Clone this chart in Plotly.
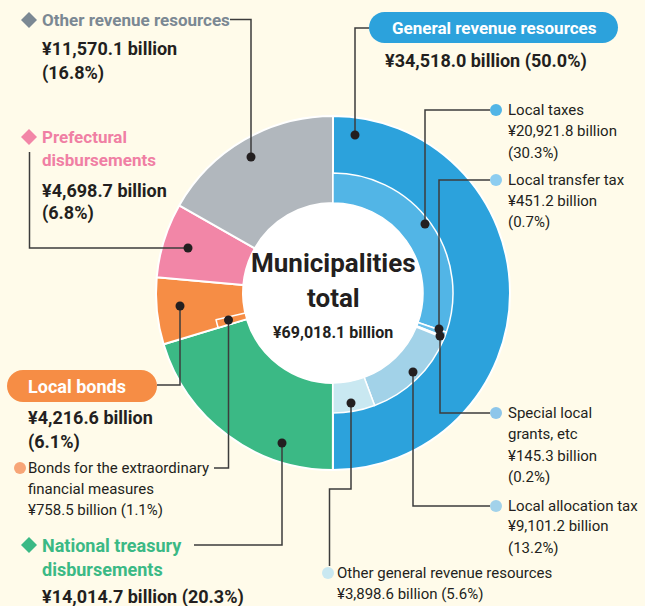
import plotly.graph_objects as go

# ---------------- data ----------------
total_value = 69018.1
outer_labels = ["General revenue resources", "National treasury disbursements",
                "Local bonds", "Prefectural disbursements", "Other revenue resources"]
outer_values = [34518.0, 14014.7, 4216.6, 4698.7, 11570.1]
outer_pct = [50.0, 20.3, 6.1, 6.8, 16.8]

general_labels = ["Local taxes", "Local transfer tax", "Special local grants, etc",
                  "Local allocation tax", "Other general revenue resources"]
general_values = [20921.8, 451.2, 145.3, 9101.2, 3898.6]
general_pct = [30.3, 0.7, 0.2, 13.2, 5.6]

bonds_extra_label = "Bonds for the extraordinary financial measures"
bonds_extra_value = 758.5
bonds_extra_pct = 1.1

# ---------------- styles ----------------
W, H = 645, 606
BG = "#fffbea"
DARK = "#231f20"
LINE = "#3c3c3c"
outer_colors = ["#2ca2dc", "#3bb985", "#f68d45", "#f286a7", "#b1b7bd"]
general_colors = ["#52b5e6", "#6cc0ea", "#8fcbec", "#a2d2e8", "#c9e8f1"]
extra_color = "#f68d45"
FONT = "Roboto, Liberation Sans, sans-serif"

CX, CY = 333, 293
R_OUT, R_MID, R_IN = 177, 120, 90


def dom(r):
    return dict(x=[(CX - r) / W, (CX + r) / W],
                y=[1 - (CY + r) / H, 1 - (CY - r) / H])


def amt(v, p):
    return f"¥{v:,.1f} billion", f"({p:.1f}%)"


fig = go.Figure()

# outer ring
fig.add_trace(go.Pie(
    values=outer_values, labels=outer_labels, sort=False, direction="clockwise",
    rotation=0, hole=R_IN / R_OUT, domain=dom(R_OUT), textinfo="none",
    marker=dict(colors=outer_colors, line=dict(color="white", width=2)),
    showlegend=False, hoverinfo="label+value"))

# inner ring (general revenue breakdown + extraordinary bonds)
inner_values = general_values + [outer_values[1], bonds_extra_value,
                                 outer_values[2] - bonds_extra_value + outer_values[3] + outer_values[4]]
inner_labels = general_labels + ["", bonds_extra_label, " "]
inner_colors = general_colors + ["rgba(0,0,0,0)", extra_color, "rgba(0,0,0,0)"]
inner_lw = [1.5] * 5 + [0, 1.5, 0]
fig.add_trace(go.Pie(
    values=inner_values, labels=inner_labels, sort=False, direction="clockwise",
    rotation=0, hole=R_IN / R_MID, domain=dom(R_MID), textinfo="none",
    marker=dict(colors=inner_colors, line=dict(color="white", width=inner_lw)),
    showlegend=False, hoverinfo="skip"))

# invisible pixel-space axes for callouts
fig.add_trace(go.Scatter(x=[0], y=[0], mode="markers", marker=dict(opacity=0),
                         hoverinfo="skip", showlegend=False))

shapes = []
annotations = []


def text(x, y, s, size=15, color=DARK, bold=False, xanchor="left"):
    annotations.append(dict(x=x - (2 if xanchor == "left" else 0), y=y, xref="x", yref="y",
                            text=(f"<b>{s}</b>" if bold else s),
                            showarrow=False, xanchor=xanchor, yanchor="middle",
                            font=dict(family=FONT, size=size, color=color)))


def poly(points):
    shapes.append(dict(type="path", xref="x", yref="y",
                       path="M " + " L ".join(f"{x},{y}" for x, y in points),
                       line=dict(color=LINE, width=1.5), layer="above"))


def dot(x, y, r=4.5, color=DARK):
    shapes.append(dict(type="circle", xref="x", yref="y", x0=x - r, x1=x + r, y0=y - r, y1=y + r,
                       fillcolor=color, line=dict(width=0), layer="above"))


def diamond(cx, cy, color, h=8):
    shapes.append(dict(type="path", xref="x", yref="y",
                       path=f"M {cx},{cy-h} L {cx+h},{cy} L {cx},{cy+h} L {cx-h},{cy} Z",
                       fillcolor=color, line=dict(width=0), layer="above"))


def pill(x0, y0, x1, y1, color):
    r = (y1 - y0) / 2
    yc = (y0 + y1) / 2
    k = 0.5523 * r
    p = (f"M {x0+r},{y0} L {x1-r},{y0} C {x1-r+k},{y0} {x1},{yc-k} {x1},{yc} "
         f"C {x1},{yc+k} {x1-r+k},{y1} {x1-r},{y1} L {x0+r},{y1} "
         f"C {x0+r-k},{y1} {x0},{yc+k} {x0},{yc} C {x0},{yc-k} {x0+r-k},{y0} {x0+r},{y0} Z")
    shapes.append(dict(type="path", xref="x", yref="y", path=p, fillcolor=color,
                       line=dict(width=0), layer="above"))


BIG = 18
LABEL = 17
SMALL = 15

# white centre
shapes.append(dict(type="circle", xref="x", yref="y", x0=CX - R_IN + 0.5, x1=CX + R_IN - 0.5,
                   y0=CY - R_IN + 0.5, y1=CY + R_IN - 0.5, fillcolor="white",
                   line=dict(width=0), layer="above"))
text(CX, 263, "Municipalities", size=26, bold=True, xanchor="center")
text(CX, 298, "total", size=26, bold=True, xanchor="center")
text(CX, 332, f"¥{total_value:,.1f} billion", size=16, bold=True, xanchor="center")

# ---- General revenue resources (pill, top right)
pill(369, 12, 618, 43, outer_colors[0])
text(494, 27.5, outer_labels[0], size=LABEL, color="white", bold=True, xanchor="center")
a, p = amt(outer_values[0], outer_pct[0])
text(385, 61, f"{a} {p}", size=BIG, bold=True)
poly([(369, 28), (355, 28), (355, 135)])
dot(355, 135)

# ---- Other revenue resources
diamond(29, 20, "#7b8893")
text(42, 20, outer_labels[4], size=LABEL, color="#7b8893", bold=True)
a, p = amt(outer_values[4], outer_pct[4])
text(42, 48, a, size=BIG, bold=True)
text(42, 73, p, size=BIG, bold=True)
poly([(230, 19.5), (251, 19.5), (251, 157)])
dot(251, 157)

# ---- Prefectural disbursements
diamond(29, 137, "#f286a7")
text(42, 137, "Prefectural", size=LABEL, color="#f07fa4", bold=True)
text(42, 160, "disbursements", size=LABEL, color="#f07fa4", bold=True)
a, p = amt(outer_values[3], outer_pct[3])
text(42, 190, a, size=BIG, bold=True)
text(42, 213, p, size=BIG, bold=True)
poly([(29.5, 152), (29.5, 248), (188, 248)])
dot(188, 248)

# ---- Local bonds
pill(7, 370, 157, 402, outer_colors[2])
text(28, 386, outer_labels[2], size=18, color="white", bold=True)
a, p = amt(outer_values[2], outer_pct[2])
text(28, 417, a, size=BIG, bold=True)
text(28, 442, p, size=BIG, bold=True)
poly([(157, 385), (180, 385), (180, 306)])
dot(180, 306)

# ---- Bonds for the extraordinary financial measures
dot(20, 468, r=6, color="#f7a577")
text(28, 468, "Bonds for the extraordinary", size=SMALL)
text(28, 489, "financial measures", size=SMALL)
a, p = amt(bonds_extra_value, bonds_extra_pct)
text(28, 510, f"{a} {p}", size=SMALL)
poly([(214, 468), (228.5, 468), (228.5, 320)])
dot(228.5, 320)

# ---- National treasury disbursements
diamond(29, 545, "#3bb985")
text(42, 545, "National treasury", size=18, color="#3bb985", bold=True)
text(42, 569, "disbursements", size=18, color="#3bb985", bold=True)
a, p = amt(outer_values[1], outer_pct[1])
text(42, 597, f"{a} {p}", size=BIG, bold=True)
poly([(194, 545), (282, 545), (282, 443)])
dot(282, 443)

# ---- General revenue breakdown (right side)
bullet_cols = ["#52b5e6", "#8dcdf0", "#8dc6ea", "#a2d2ea", "#c9e8f1"]
# Local taxes
dot(496, 110, r=6, color=bullet_cols[0])
text(508, 110, general_labels[0], size=SMALL)
a, p = amt(general_values[0], general_pct[0])
text(508, 131, a, size=SMALL)
text(508, 153, p, size=SMALL)
poly([(490, 110), (425, 110), (425, 224)])
dot(425, 224)

# Local transfer tax
dot(496, 180, r=6, color=bullet_cols[1])
text(508, 180, general_labels[1], size=SMALL)
a, p = amt(general_values[1], general_pct[1])
text(508, 201, a, size=SMALL)
text(508, 222, p, size=SMALL)
poly([(490, 180), (439, 180), (439, 329)])
dot(439, 329)

# Special local grants, etc
dot(496, 413, r=6, color=bullet_cols[2])
text(508, 413, "Special local", size=SMALL)
text(508, 434, "grants, etc", size=SMALL)
a, p = amt(general_values[2], general_pct[2])
text(508, 456, a, size=SMALL)
text(508, 477, p, size=SMALL)
poly([(490, 413), (440, 413), (440, 336)])
dot(440, 336)

# Local allocation tax
dot(496, 506, r=6, color=bullet_cols[3])
text(508, 506, general_labels[3], size=SMALL)
a, p = amt(general_values[3], general_pct[3])
text(508, 526, a, size=SMALL)
text(508, 548, p, size=SMALL)
poly([(490, 506), (413, 506), (413, 372)])
dot(413, 372)

# Other general revenue resources
dot(328, 573, r=6, color=bullet_cols[4])
text(337, 573, general_labels[4], size=SMALL)
a, p = amt(general_values[4], general_pct[4])
text(337, 594, f"{a} {p}", size=SMALL)
poly([(351, 403), (351, 489), (329.5, 489), (329.5, 566)])
dot(351, 403)

fig.update_layout(
    width=W, height=H, margin=dict(l=0, r=0, t=0, b=0),
    paper_bgcolor=BG, plot_bgcolor="rgba(0,0,0,0)",
    xaxis=dict(range=[0, W], visible=False, fixedrange=True, domain=[0, 1]),
    yaxis=dict(range=[H, 0], visible=False, fixedrange=True, domain=[0, 1]),
    shapes=shapes, annotations=annotations, showlegend=False,
)

fig.write_html("out.html", config={"displayModeBar": False},
               post_script="document.body.style.margin='0';document.body.style.overflow='hidden';")
